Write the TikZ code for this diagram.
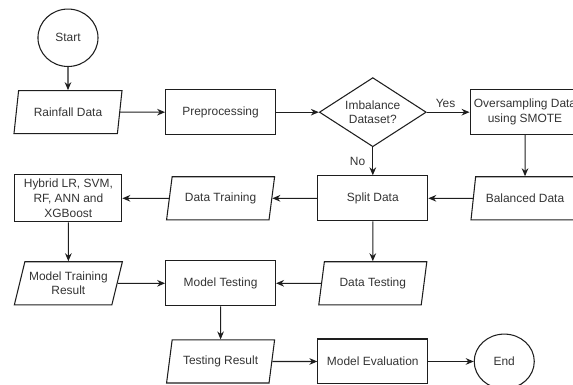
\documentclass[tikz,border=0pt]{standalone}
\usepackage{fontspec}
\setmainfont{Liberation Sans}
\usepackage{tikz}
\usetikzlibrary{shapes.geometric, arrows.meta, positioning}
\definecolor{flowline}{RGB}{30,30,30}
\definecolor{flowtext}{RGB}{51,51,51}
\tikzset{
  base/.style={draw=flowline, line width=0.8pt, text=flowtext, align=center,
    font=\fontsize{9}{11}\selectfont},
  process/.style={base, rectangle, minimum width=2.91cm, minimum height=1.19cm, inner sep=1pt},
  io/.style={base, trapezium, trapezium left angle=68, trapezium right angle=112,
    trapezium stretches body, minimum width=2.86cm, minimum height=1.14cm, inner sep=1pt},
  decision/.style={base, diamond, shape aspect=1.55, minimum width=2.83cm,
    minimum height=1.83cm, inner sep=0pt},
  terminal/.style={base, ellipse, minimum width=1.59cm, minimum height=1.52cm},
  arrow/.style={-{Stealth[length=6pt, width=5pt]}, line width=0.8pt, color=flowline},
  lbl/.style={font=\fontsize{9}{11}\selectfont, text=flowtext},
}
\begin{document}
\begin{tikzpicture}[on grid, node distance=4.03cm]
  \useasboundingbox (0,0) rectangle (15.17,-10.19);
  \node[terminal] (start) at (1.80,-1.00) {Start};
  \node[io, below=1.97cm of start] (rain) {Rainfall Data};
  \node[process, right=4.04cm of rain] (prep) {Preprocessing};
  \node[decision, right=of prep] (imb) {Imbalance\\Dataset?};
  \node[process, right=of imb] (over) {Oversampling Data\\using SMOTE};
  \node[io, below=2.28cm of over] (bal) {Balanced Data};
  \node[process, below=2.28cm of imb] (split) {Split Data};
  \node[io, left=of split] (train) {Data Training};
  \node[process, left=of train, minimum width=2.83cm, minimum height=1.25cm] (hybrid)
    {Hybrid LR, SVM,\\RF, ANN and\\XGBoost};
  \node[io, below=2.25cm of hybrid] (mtres) {Model Training\\Result};
  \node[process, right=of mtres] (mtest) {Model Testing};
  \node[io, right=of mtest] (dtest) {Data Testing};
  \node[io, below=2.07cm of mtest] (tres) {Testing Result};
  \node[process, right=of tres] (eval) {Model Evaluation};
  \node[terminal, right=3.48cm of eval, minimum height=1.45cm] (end) {End};

  \draw[arrow] (start) -- (rain);
  \draw[arrow] (rain) -- (prep);
  \draw[arrow] (prep) -- (imb);
  \draw[arrow] (imb) -- node[lbl, above, xshift=-2pt]{Yes} (over);
  \draw[arrow] (imb) -- node[lbl, left, xshift=-2pt]{No} (split);
  \draw[arrow] (over) -- (bal);
  \draw[arrow] (bal) -- (split);
  \draw[arrow] (split) -- (train);
  \draw[arrow] (train) -- (hybrid);
  \draw[arrow] (hybrid) -- (mtres);
  \draw[arrow] (mtres) -- (mtest);
  \draw[arrow] (split) -- (dtest);
  \draw[arrow] (dtest) -- (mtest);
  \draw[arrow] (mtest) -- (tres);
  \draw[arrow] (tres) -- (eval);
  \draw[arrow] (eval) -- (end);
\end{tikzpicture}
\end{document}
